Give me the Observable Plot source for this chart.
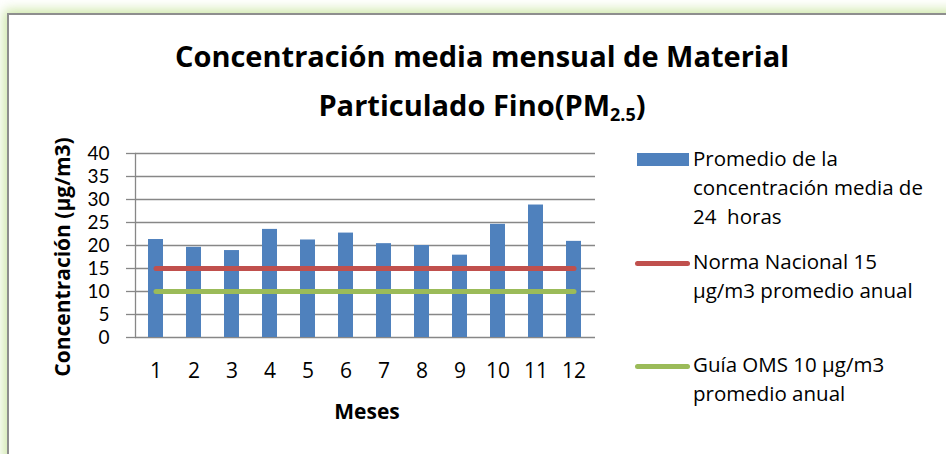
<!DOCTYPE html>
<html>
<head>
<meta charset="utf-8">
<script src="https://cdn.jsdelivr.net/npm/d3@7"></script>
<script src="https://cdn.jsdelivr.net/npm/@observablehq/plot@0.6"></script>
<style>
  html, body { margin: 0; padding: 0; background: #fff; overflow: hidden; }
  #wrap { position: relative; width: 946px; height: 454px; overflow: hidden; background: #fff;
          font-family: "Open Sans", sans-serif; color: #000; }
  #frame { position: absolute; left: 7px; top: 13px; width: 1200px; height: 900px;
           border-left: 2px solid #8e8e8e; border-top: 2px solid #8e8e8e;
           box-shadow: 0 0 11px 3px rgba(160, 210, 90, 0.55); background: #fff; }
  #plot { position: absolute; left: 0; top: 0; }
  #title { position: absolute; left: 0; top: 31px; width: 964px; text-align: center;
           font-weight: 700; font-size: 29px; line-height: 49px; }
  #title sub { font-size: 0.62em; line-height: 0; vertical-align: -0.3em; }
  #ylabel { position: absolute; left: 62px; top: 257px; transform: translate(-50%, -50%) rotate(-90deg);
            white-space: nowrap; font-weight: 700; font-size: 21px; }
  #xlabel { position: absolute; left: 367px; top: 411px; transform: translate(-50%, -50%);
            white-space: nowrap; font-weight: 700; font-size: 21px; }
  .lg-text { position: absolute; left: 693px; font-size: 20.5px; line-height: 29px; white-space: pre; }
  .lg-key { position: absolute; }
</style>
</head>
<body>
<div id="wrap">
  <div id="frame"></div>
  <div id="title">Concentración media mensual de Material<br>Particulado Fino(PM<sub>2.5</sub>)</div>
  <div id="plot"></div>
  <div id="ylabel"></div>
  <div id="xlabel"></div>
  <div id="legend"></div>
</div>
<script>
// ---- data ----
const months = [1, 2, 3, 4, 5, 6, 7, 8, 9, 10, 11, 12];
const pm25Monthly = [21.3, 19.6, 18.9, 23.5, 21.2, 22.7, 20.4, 20.0, 17.9, 24.6, 28.8, 20.9];
const nationalStandard = [15, 15, 15, 15, 15, 15, 15, 15, 15, 15, 15, 15];
const whoGuideline = [10, 10, 10, 10, 10, 10, 10, 10, 10, 10, 10, 10];
const yTicks = [0, 5, 10, 15, 20, 25, 30, 35, 40];
const yAxisTitle = "Concentración (µg/m3)";
const xAxisTitle = "Meses";
const seriesNames = [
  ["Promedio de la", "concentración media de", "24  horas"],
  ["Norma Nacional 15", "µg/m3 promedio anual"],
  ["Guía OMS 10 µg/m3", "promedio anual"]
];

// ---- style ----
const BLUE = "#4F81BD", RED = "#C0504D", GREEN = "#9BBB59", GRID = "#878787";

const chart = Plot.plot({
  width: 946,
  height: 454,
  marginLeft: 135,
  marginRight: 351,
  marginTop: 153,
  marginBottom: 117,
  style: { fontFamily: "Open Sans, sans-serif", fontSize: "21px", color: "#000", background: "transparent", overflow: "visible" },
  x: { type: "band", domain: months, paddingInner: 0.6, paddingOuter: 0.3, label: null },
  y: { domain: [0, 40], label: null },
  marks: [
    Plot.ruleY(yTicks, { stroke: GRID, strokeWidth: 1.3 }),
    Plot.barY(pm25Monthly, { x: months, y: d => d, fill: BLUE }),
    Plot.lineY(nationalStandard, { x: months, y: d => d, stroke: RED, strokeWidth: 5, strokeLinecap: "round" }),
    Plot.lineY(whoGuideline, { x: months, y: d => d, stroke: GREEN, strokeWidth: 5, strokeLinecap: "round" }),
    Plot.frame({ anchor: "left", stroke: GRID, strokeWidth: 1.3 }),
    Plot.axisY({ ticks: yTicks, tickSize: 9, tickPadding: 17, stroke: GRID, strokeWidth: 1.3, label: null,
                 fontFamily: "Lato, sans-serif", fontSize: 19 }),
    Plot.axisX({ tickSize: 0, tickPadding: 26, label: null })
  ]
});
document.getElementById("plot").appendChild(chart);
document.getElementById("ylabel").textContent = yAxisTitle;
document.getElementById("xlabel").textContent = xAxisTitle;

// ---- legend ----
const legend = document.getElementById("legend");
const textTops = [144, 247, 350];
const keys = [
  { type: "rect", color: BLUE, left: 637, top: 153, width: 52, height: 13 },
  { type: "line", color: RED, left: 635, top: 260.5, width: 55, height: 5 },
  { type: "line", color: GREEN, left: 635, top: 363.5, width: 55, height: 5 }
];
seriesNames.forEach((lines, i) => {
  const k = keys[i];
  const key = document.createElement("div");
  key.className = "lg-key";
  Object.assign(key.style, {
    left: k.left + "px", top: k.top + "px", width: k.width + "px", height: k.height + "px",
    background: k.color, borderRadius: k.type === "line" ? "3px" : "0"
  });
  legend.appendChild(key);
  const t = document.createElement("div");
  t.className = "lg-text";
  t.style.top = textTops[i] + "px";
  t.textContent = lines.join("\n");
  legend.appendChild(t);
});
</script>
</body>
</html>
